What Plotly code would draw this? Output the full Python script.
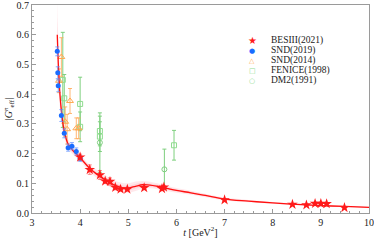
import plotly.graph_objects as go

# ---------------- data ----------------
t_bes = [4.00, 4.20, 4.41, 4.52, 4.62, 4.73, 4.84, 4.98, 5.33, 5.70, 5.74, 7.00, 8.41, 8.70, 8.88, 9.00, 9.12, 9.49]
g_bes = [0.188, 0.146, 0.128, 0.107, 0.106, 0.086, 0.080, 0.080, 0.085, 0.082, 0.087, 0.044, 0.029, 0.027, 0.032, 0.032, 0.031, 0.018]
e_bes = [0.010, 0.016, 0.015, 0.008, 0.012, 0.008, 0.006, 0.006, 0.005, 0.006, 0.006, 0.004, 0.003, 0.003, 0.004, 0.004, 0.003, 0.002]

t_snd19 = [3.525, 3.535, 3.545, 3.61, 3.67, 3.75, 3.83, 3.92, 4.00]
g_snd19 = [0.544, 0.472, 0.428, 0.328, 0.268, 0.220, 0.225, 0.207, 0.184]
e_snd19 = [0.015, 0.020, 0.020, 0.020, 0.015, 0.012, 0.012, 0.012, 0.010]

t_snd14 = [3.56, 3.61, 3.69, 3.73, 3.79, 3.92, 3.97]
g_snd14 = [0.445, 0.525, 0.307, 0.282, 0.377, 0.285, 0.285]
e_snd14 = [0.040, 0.065, 0.050, 0.050, 0.042, 0.035, 0.035]

t_fen = [3.64, 3.67, 4.00, 4.00, 4.41, 4.41, 5.95]
g_fen = [0.448, 0.386, 0.367, 0.290, 0.276, 0.257, 0.228]
e_fen = [0.160, 0.080, 0.090, 0.050, 0.050, 0.050, 0.050]

t_dm2 = [4.41, 5.75]
g_dm2 = [0.237, 0.147]
e_dm2 = [0.100, 0.068]

curve_t = [3.525, 3.55, 3.58, 3.62, 3.67, 3.75, 3.85, 4.0, 4.2, 4.4, 4.6, 4.8, 5.0, 5.15, 5.3,
           5.45, 5.6, 5.8, 6.0, 6.3, 6.6, 7.0, 7.5, 8.0, 8.5, 9.0, 9.5, 10.0]
curve_g = [0.600, 0.490, 0.400, 0.330, 0.275, 0.232, 0.210, 0.186, 0.150, 0.125, 0.104, 0.088, 0.084,
           0.090, 0.095, 0.094, 0.090, 0.083, 0.076, 0.068, 0.059, 0.047, 0.040, 0.034, 0.029, 0.025,
           0.022, 0.019]
band_w = [0.120, 0.070, 0.045, 0.030, 0.022, 0.016, 0.013, 0.011, 0.012, 0.014, 0.015, 0.016, 0.016,
          0.016, 0.013, 0.011, 0.010, 0.009, 0.008, 0.007, 0.006, 0.005, 0.004, 0.003, 0.003, 0.002,
          0.002, 0.002]

x_ticks = [3, 4, 5, 6, 7, 8, 9, 10]
y_ticks = [0.0, 0.1, 0.2, 0.3, 0.4, 0.5, 0.6, 0.7]
y_ticklabels = ["0.0", "0.1", "0.2", "0.3", "0.4", "0.5", "0.6", "0.7"]

legend_names = ["BESIII(2021)", "SND(2019)", "SND(2014)", "FENICE(1998)", "DM2(1991)"]
legend_symbols = ["\u2605", "\u25CF", "\u25B3", "\u25A1", "\u25CB"]
legend_colors = ["#ff1a1a", "#1a6cff", "#ffb060", "#8fdc8f", "#8fdc8f"]

# ---------------- figure ----------------
fig = go.Figure()

upper = [g + w for g, w in zip(curve_g, band_w)]
lower = [g - w for g, w in zip(curve_g, band_w)]
inner_up = [g + 0.5 * w for g, w in zip(curve_g, band_w)]
inner_lo = [g - 0.5 * w for g, w in zip(curve_g, band_w)]

fig.add_trace(go.Scatter(x=curve_t, y=upper, mode="lines", line=dict(width=0, shape="spline"),
                         showlegend=False, hoverinfo="skip"))
fig.add_trace(go.Scatter(x=curve_t, y=lower, mode="lines", line=dict(width=0, shape="spline"),
                         fill="tonexty", fillcolor="rgba(255,80,100,0.13)", showlegend=False, hoverinfo="skip"))
fig.add_trace(go.Scatter(x=curve_t, y=inner_up, mode="lines", line=dict(width=0, shape="spline"),
                         showlegend=False, hoverinfo="skip"))
fig.add_trace(go.Scatter(x=curve_t, y=inner_lo, mode="lines", line=dict(width=0, shape="spline"),
                         fill="tonexty", fillcolor="rgba(255,80,100,0.12)", showlegend=False, hoverinfo="skip"))

# data sets
fig.add_trace(go.Scatter(
    x=t_fen, y=g_fen, mode="markers", name="FENICE(1998)",
    marker=dict(symbol="square-open", size=5, color="#8fdc8f", line=dict(width=1)),
    error_y=dict(type="data", array=e_fen, color="#7fd07f", thickness=1, width=2)))
fig.add_trace(go.Scatter(
    x=t_dm2, y=g_dm2, mode="markers", name="DM2(1991)",
    marker=dict(symbol="circle-open", size=5, color="#7fcf7f", line=dict(width=1)),
    error_y=dict(type="data", array=e_dm2, color="#7fcf7f", thickness=1, width=2)))
fig.add_trace(go.Scatter(
    x=t_snd14, y=g_snd14, mode="markers", name="SND(2014)",
    marker=dict(symbol="triangle-up-open", size=6, color="#ffa850", line=dict(width=1)),
    error_y=dict(type="data", array=e_snd14, color="rgba(255,165,80,0.8)", thickness=1, width=2)))

fig.add_trace(go.Scatter(x=curve_t, y=curve_g, mode="lines", line=dict(color="#ff1010", width=1.3, shape="spline"),
                         showlegend=False, hoverinfo="skip"))

fig.add_trace(go.Scatter(
    x=t_snd19, y=g_snd19, mode="markers", name="SND(2019)",
    marker=dict(symbol="circle", size=5, color="#1a6cff"),
    error_y=dict(type="data", array=e_snd19, color="rgba(90,140,255,0.7)", thickness=1, width=2)))
fig.add_trace(go.Scatter(
    x=t_bes, y=g_bes, mode="markers", name="BESIII(2021)",
    marker=dict(symbol="star", size=8, color="#ff1a1a"),
    error_y=dict(type="data", array=e_bes, color="rgba(255,60,60,0.6)", thickness=1, width=2)))

# legend drawn as text
row_y = [0.828, 0.779, 0.731, 0.683, 0.635]
for name, sym, col, yy in zip(legend_names, legend_symbols, legend_colors, row_y):
    fig.add_annotation(x=0.653, y=yy, xref="paper", yref="paper", text=sym, showarrow=False,
                       xanchor="center", yanchor="middle",
                       font=dict(family="DejaVu Sans", size=7 if sym != "\u2605" else 10, color=col))
    fig.add_annotation(x=0.703, y=yy, xref="paper", yref="paper", text=name, showarrow=False,
                       xanchor="left", yanchor="middle",
                       font=dict(family="Liberation Serif", size=9.5, color="#222"))

axis_common = dict(
    showline=True, linecolor="#9a9a9a", linewidth=1, mirror=True,
    ticks="inside", ticklen=4, tickcolor="#9a9a9a", tickwidth=1,
    showgrid=False, zeroline=False, automargin=False, ticklabeloverflow="allow",
    tickfont=dict(family="Liberation Serif", size=10, color="#222"),
)

fig.update_layout(
    width=374, height=244,
    margin=dict(l=32, r=5, t=5, b=31),
    paper_bgcolor="white", plot_bgcolor="white",
    showlegend=False,
    xaxis=dict(range=[3, 10], tickmode="array", tickvals=x_ticks,
               minor=dict(dtick=0.2, ticks="inside", ticklen=2, tickcolor="#9a9a9a"),
               title=dict(text="<i>t</i> [GeV<sup>2</sup>]", standoff=1,
                          font=dict(family="Liberation Serif", size=10, color="#222")),
               **axis_common),
    yaxis=dict(range=[0, 0.7], tickmode="array", tickvals=y_ticks, ticktext=y_ticklabels,
               minor=dict(dtick=0.02, ticks="inside", ticklen=2, tickcolor="#9a9a9a"),
               title=dict(text="|<i>G</i><sup><i>n</i></sup><sub>eff</sub>|", standoff=1,
                          font=dict(family="Liberation Serif", size=10, color="#222")),
               **axis_common),
)

fig.write_html("out.html", config={"displayModeBar": False},
               post_script="document.body.style.margin='0';document.body.style.padding='0';")
